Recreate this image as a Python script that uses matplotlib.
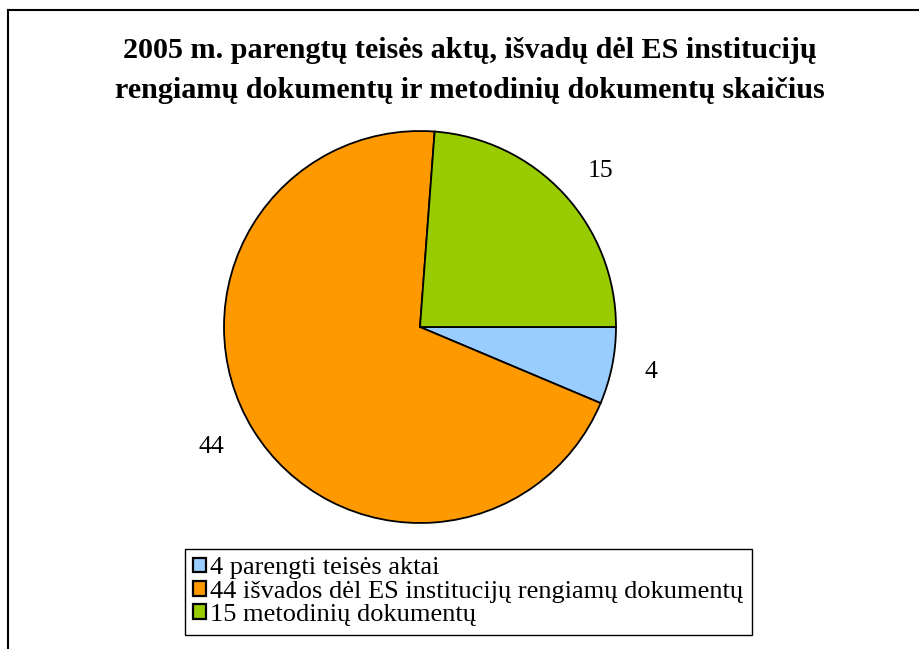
import matplotlib
matplotlib.use("Agg")
import matplotlib.pyplot as plt
from matplotlib.lines import Line2D

title = "2005 m. parengtų teisės aktų, išvadų dėl ES institucijų\nrengiamų dokumentų ir metodinių dokumentų skaičius"
categories = ["4 parengti teisės aktai",
              "44 išvados dėl ES institucijų rengiamų dokumentų",
              "15 metodinių dokumentų"]
values = [4, 44, 15]
value_labels = ["4", "44", "15"]
colors = ["#99CCFF", "#FF9900", "#99CC00"]

W, H = 920, 649
fig = plt.figure(figsize=(W / 100, H / 100), dpi=100)

# pie axes
cx, cy, r = 420, 327, 196
ax = fig.add_axes([(cx - r) / W, (H - cy - r) / H, 2 * r / W, 2 * r / H])
wedges, texts = ax.pie(values, colors=colors, startangle=0, counterclock=False,
                       labels=value_labels, labeldistance=1.17,
                       wedgeprops=dict(edgecolor="black", linewidth=1.3),
                       textprops=dict(fontsize=18.5, family="Liberation Serif"))
ax.set_xlim(-1, 1)
ax.set_ylim(-1, 1)
ax.set_aspect("equal")

fig.text(470 / W, 1 - 37 / H, title, ha="center", va="top",
         fontsize=21.7, fontweight="bold", family="Liberation Serif",
         linespacing=1.6)

leg = ax.legend(wedges, categories, loc="upper left",
                bbox_to_anchor=(185 / W, 1 - 549 / H), bbox_transform=fig.transFigure,
                frameon=True, fancybox=False, edgecolor="black", framealpha=1,
                prop=dict(family="Liberation Serif", size=19),
                handlelength=0.48, handleheight=0.48, handletextpad=0.15,
                labelspacing=0.05, borderpad=0.32, borderaxespad=0)
leg.get_frame().set_linewidth(1.0)
for h in leg.legend_handles:
    h.set_linewidth(1.6)

# outer border
fig.add_artist(Line2D([8 / W, 8 / W], [0, 1 - 10 / H], transform=fig.transFigure,
                      color="black", linewidth=1.5))
fig.add_artist(Line2D([8 / W, 1], [1 - 10 / H, 1 - 10 / H], transform=fig.transFigure,
                      color="black", linewidth=1.5))

fig.savefig("out.png", dpi=100, facecolor="white")
